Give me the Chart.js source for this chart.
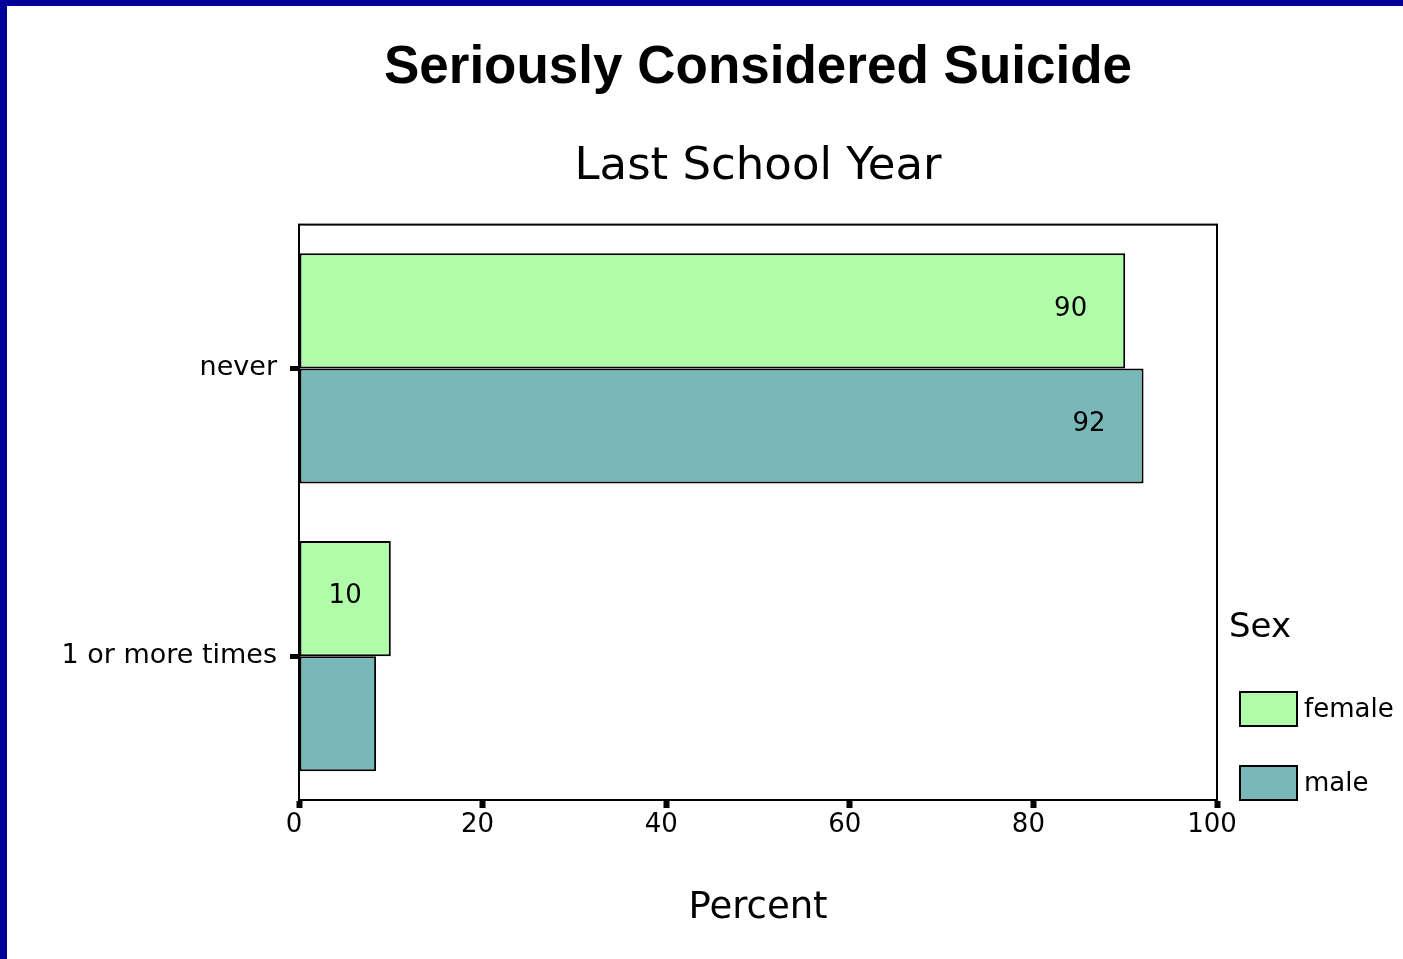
<!DOCTYPE html>
<html>
<head>
<meta charset="utf-8">
<title>Seriously Considered Suicide</title>
<script src="https://cdn.jsdelivr.net/npm/chart.js@4.4.1/dist/chart.umd.min.js"></script>
<style>
  html, body { margin: 0; padding: 0; }
  body { width: 1403px; height: 959px; background: #000099; overflow: hidden; }
  #frame { position: absolute; left: 7px; top: 6px; width: 1396px; height: 953px; background: #fff; }
</style>
</head>
<body>
<div id="frame"><canvas id="suicide-chart"></canvas></div>
<script>
// Percent of students, by sex
const categories = ['never', '1 or more times'];
const sexes = ['female', 'male'];
const female = [90, 10];
const male = [92, 8.4];
const percentTicks = [0, 20, 40, 60, 80, 100];
const minLabelValue = 10;

const fillColors = ['#b0fca8', '#78b8b8'];

Chart.defaults.font.family = '"DejaVu Sans", sans-serif';
Chart.defaults.color = '#000';

// box around the plot area
const plotFrame = {
  id: 'plotFrame',
  afterDatasetsDraw(chart) {
    const { ctx, chartArea: a } = chart;
    ctx.save();
    ctx.strokeStyle = '#000';
    ctx.lineWidth = 2;
    ctx.strokeRect(a.left, a.top, a.right - a.left, a.bottom - a.top);
    ctx.restore();
  }
};

// value printed near the end of each bar
const barValues = {
  id: 'barValues',
  afterDatasetsDraw(chart) {
    const { ctx } = chart;
    ctx.save();
    ctx.font = '26px "DejaVu Sans", sans-serif';
    ctx.fillStyle = '#000';
    ctx.textAlign = 'center';
    ctx.textBaseline = 'middle';
    chart.data.datasets.forEach((ds, i) => {
      chart.getDatasetMeta(i).data.forEach((bar, j) => {
        const v = ds.data[j];
        if (v < minLabelValue) return;
        const text = String(Math.round(v));
        const w = ctx.measureText(text).width;
        const cx = Math.max((bar.base + bar.x) / 2, bar.x - 38 - w / 2);
        ctx.fillText(text, cx, bar.y - 2);
      });
    });
    ctx.restore();
  }
};

// "Sex" key to the right of the plot
const sexKey = {
  id: 'sexKey',
  afterDraw(chart) {
    const { ctx, chartArea: a } = chart;
    const left = a.right + 23, boxW = 57, boxH = 34, step = 74;
    const n = chart.data.datasets.length;
    ctx.save();
    ctx.fillStyle = '#000';
    ctx.textAlign = 'left';
    ctx.textBaseline = 'middle';
    ctx.font = '34px "DejaVu Sans", sans-serif';
    ctx.fillText('Sex', a.right + 12, a.bottom - 172);
    ctx.font = '26px "DejaVu Sans", sans-serif';
    chart.data.datasets.forEach((ds, i) => {
      const top = a.bottom - boxH - (n - 1 - i) * step;
      ctx.fillStyle = ds.backgroundColor;
      ctx.fillRect(left, top, boxW, boxH);
      ctx.strokeStyle = '#000';
      ctx.lineWidth = 2;
      ctx.strokeRect(left, top, boxW, boxH);
      ctx.fillStyle = '#000';
      ctx.fillText(ds.label, left + boxW + 7, top + boxH / 2 + 1);
    });
    ctx.restore();
  }
};

new Chart(document.getElementById('suicide-chart'), {
  type: 'bar',
  data: {
    labels: categories,
    datasets: [
      { label: sexes[0], data: female, backgroundColor: fillColors[0] },
      { label: sexes[1], data: male, backgroundColor: fillColors[1] }
    ]
  },
  options: {
    indexAxis: 'y',
    responsive: true,
    maintainAspectRatio: false,
    animation: false,
    datasets: {
      bar: {
        borderColor: '#000',
        borderWidth: 2,
        borderSkipped: false,
        categoryPercentage: 0.8,
        barPercentage: 1.0
      }
    },
    layout: { padding: { left: 0, right: 186, top: 0, bottom: 28 } },
    plugins: {
      legend: { display: false },
      tooltip: { enabled: false },
      title: {
        display: true,
        fullSize: false,
        text: 'Seriously Considered Suicide',
        font: { family: '"Liberation Sans", Arial, sans-serif', size: 53, weight: 'bold' },
        color: '#000',
        padding: { top: 31, bottom: 0 }
      },
      subtitle: {
        display: true,
        fullSize: false,
        text: 'Last School Year',
        font: { size: 45 },
        color: '#000',
        padding: { top: 40, bottom: 30 }
      }
    },
    scales: {
      x: {
        min: 0,
        max: 100,
        afterBuildTicks: s => { s.ticks = percentTicks.map(v => ({ value: v })); },
        afterFit: s => { s.height = 131; },
        grid: { display: true, drawOnChartArea: false, tickLength: 8, tickWidth: 6, tickColor: '#000' },
        border: { display: true, color: '#000', width: 2 },
        ticks: { font: { size: 26 }, padding: 2, labelOffset: -5, maxRotation: 0 },
        title: { display: true, text: 'Percent', font: { size: 37 }, padding: 0 }
      },
      y: {
        afterFit: s => { s.width = 292; },
        grid: { display: true, drawOnChartArea: false, offset: false, tickLength: 9, tickWidth: 5, tickColor: '#000' },
        border: { display: true, color: '#000', width: 2 },
        ticks: { font: { size: 27 }, padding: 13 }
      }
    }
  },
  plugins: [plotFrame, barValues, sexKey]
});
</script>
</body>
</html>
